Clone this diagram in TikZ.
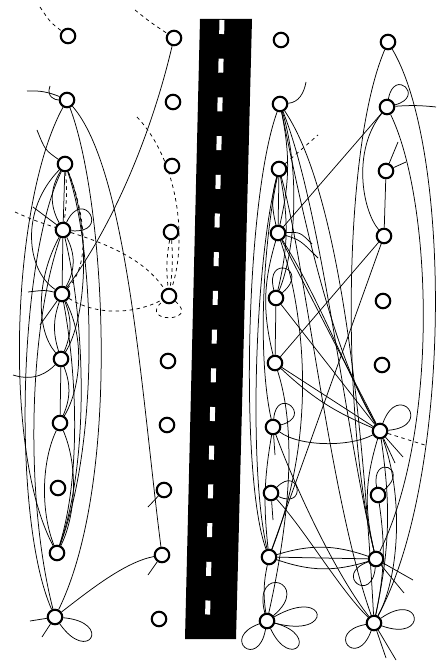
\documentclass[tikz,border=0pt]{standalone}
\usetikzlibrary{backgrounds}
\begin{document}
\begin{tikzpicture}[x=1pt,y=-1pt,
  hs/.style={circle,draw,line width=2.1pt,minimum size=14.5pt,inner sep=0pt,fill=white},
  ed/.style={line width=0.75pt},
  dd/.style={line width=0.75pt,dash pattern=on 3.5pt off 3.5pt}]
\useasboundingbox (0,0) rectangle (442,663);
% ---------- nodes ----------
\foreach \n/\x/\y in {a0/68/36,a1/67/100,a2/65/164,a3/63/230,a4/62/294,a5/61/359,a6/60/423,a7/58/488,a8/57/553,a9/55/617,
  b0/174/38,b1/173/102,b2/172/166,b3/171/232,b4/169/296,b5/168/361,b6/167/425,b7/164/490,b8/162/555,b9/159/619,
  c0/281/40,c1/280/104,c2/279/169,c3/278/233,c4/276/298,c5/275/363,c6/273/427,c7/271/493,c8/269/557,c9/267/621,
  d0/388/42,d1/387/107,d2/386/171,d3/384/236,d4/383/301,d5/382/365,d6/380/431,d7/378/495,d8/376/559,d9/374/623}
  {\node[hs] (\n) at (\x,\y) {};}
% free ends
\coordinate (da0) at (40,7);   \coordinate (db0) at (135,10);
\coordinate (dq) at (137,117); \coordinate (dl) at (15,212);
\coordinate (sa1a) at (27,91); \coordinate (sa1b) at (50,86);
\coordinate (sa2) at (37,130); \coordinate (sa3) at (33,207);
\coordinate (sa4a) at (28,292); \coordinate (sa4b) at (40,325);
\coordinate (sa5) at (13,375);
\coordinate (sa9a) at (30,621); \coordinate (sa9b) at (42,637);
\coordinate (sb7) at (148,507); \coordinate (sb8) at (148,575);
\coordinate (sc1) at (306,82); \coordinate (sc2) at (318,135);
\coordinate (sc3a) at (312,244); \coordinate (sc3b) at (318,258);
\coordinate (sc6) at (275,455); \coordinate (sc7) at (273,520);
\coordinate (sd1) at (436,107);
\coordinate (sd2a) at (398,142); \coordinate (sd2b) at (406,162);
\coordinate (sd6a) at (403,457); \coordinate (sd6b) at (395,463); \coordinate (sd6c) at (428,446);
\coordinate (sd8a) at (413,580); \coordinate (sd8b) at (404,593);
\coordinate (sd9a) at (396,660); \coordinate (sd9b) at (386,658);
\begin{pgfonlayer}{background}
% ---------- road ----------
\fill[black] (200,19) -- (252,19) -- (236,639) -- (185,639) -- cycle;
\foreach \i in {0,...,15}{
  \pgfmathsetmacro{\ya}{20+38.7*\i}
  \pgfmathsetmacro{\yb}{\ya+14}
  \pgfmathsetmacro{\xa}{222-0.0242*(\ya-20)}
  \pgfmathsetmacro{\xb}{222-0.0242*(\yb-20)}
  \draw[white,line width=5pt] (\xa,\ya) -- (\xb,\yb);
}
% ---------- left, dashed ----------
\draw[dd] (da0) .. controls (50,22) .. (a0);
\draw[dd] (db0) .. controls (150,22) .. (b0);
\draw[dd] (dq) .. controls (178,160) and (188,240) .. (b4);
\draw[dd] (b3) to[bend right=8] (b4);
\draw[dd] (b3) to[bend left=6] (b4);
\draw[dd] (b4) to[out=-40,in=-140,min distance=34pt] (b4);
\draw[dd] (dl) .. controls (33,220) .. (a3);
\draw[dd] (a3) .. controls (110,245) and (145,260) .. (b4);
\draw[dd] (a4) .. controls (100,318) and (140,312) .. (b4);
\draw[dd] (a2) to[bend left=6] (a3);
\draw[dd] (a2) .. controls (80,200) and (95,260) .. (a4);
% ---------- left, solid ----------
\draw[ed] (sa1a) to[bend left=12] (a1);
\draw[ed] (sa1b) .. controls (46,97) and (55,100) .. (a1);
\draw[ed] (sa2) .. controls (45,150) .. (a2);
\draw[ed] (sa3) .. controls (45,215) .. (a3);
\draw[ed] (sa4a) .. controls (45,290) .. (a4);
\draw[ed] (a4) -- (sa4b);
\draw[ed] (sa5) .. controls (35,382) and (48,372) .. (a5);
\draw[ed] (a1) .. controls (105,200) and (122,480) .. (a9);
\draw[ed] (a1) .. controls (128,170) and (142,400) .. (b8);
\draw[ed] (a1) .. controls (12,200) and (2,450) .. (a8);
\draw[ed] (a2) .. controls (18,260) and (12,520) .. (a9);
\draw[ed] (a3) .. controls (28,330) and (25,500) .. (a9);
\draw[ed] (a2) .. controls (95,250) and (100,440) .. (a8);
\draw[ed] (a3) .. controls (85,320) and (90,460) .. (a8);
\draw[ed] (a4) .. controls (78,380) and (80,480) .. (a8);
\draw[ed] (a6) .. controls (42,460) and (40,510) .. (a8);
\draw[ed] (a6) .. controls (80,470) and (74,520) .. (a8);
\draw[ed] (a5) -- (a6);
\draw[ed] (a5) to[bend left=22] (a6);
\draw[ed] (a4) to[bend left=22] (a5);
\draw[ed] (a4) to[bend right=18] (a5);
\draw[ed] (a3) -- (a4);
\draw[ed] (a3) to[bend left=28] (a4);
\draw[ed] (a2) -- (a3);
\draw[ed] (a2) to[bend right=30] (a3);
\draw[ed] (a2) .. controls (20,210) and (26,270) .. (a4);
\draw[ed] (a2) .. controls (92,230) and (86,320) .. (a5);
\draw[ed] (a3) .. controls (36,280) and (36,330) .. (a5);
\draw[ed] (a4) .. controls (86,340) and (80,390) .. (a6);
\draw[ed] (b0) .. controls (150,140) and (110,230) .. (a4);
\draw[ed] (a3) to[out=65,in=-5,min distance=40pt] (a3);
\draw[ed] (b7) -- (sb7);
\draw[ed] (b8) -- (sb8);
\draw[ed] (a9) .. controls (90,590) and (125,562) .. (b8);
\draw[ed] (a9) to[out=-5,in=-55,min distance=50pt] (a9);
\draw[ed] (a9) -- (sa9a);
\draw[ed] (a9) -- (sa9b);
% ---------- right, dashed ----------
\draw[dd] (c2) -- (sc2);
\draw[dd] (d6) -- (sd6c);
% ---------- right, solid ----------
\draw[ed] (c1) to[out=5,in=-100] (sc1);
\draw[ed] (c1) .. controls (245,200) and (240,480) .. (c8);
\draw[ed] (c2) .. controls (255,260) and (248,470) .. (c8);
\draw[ed] (c2) .. controls (262,250) and (258,360) .. (c6);
\draw[ed] (c1) to[bend left=12] (c3);
\draw[ed] (c1) .. controls (300,170) and (296,250) .. (c4);
\draw[ed] (c1) .. controls (345,200) and (365,460) .. (d9);
\draw[ed] (c1) .. controls (322,210) and (345,430) .. (d8);
\draw[ed] (c1) .. controls (300,200) and (330,350) .. (d6);
\draw[ed] (c2) .. controls (305,260) and (330,500) .. (d9);
\draw[ed] (c2) -- (c3);
\draw[ed] (c2) to[bend right=15] (c3);
\draw[ed] (c2) to[bend left=12] (c4);
\draw[ed] (d1) -- (c3);
\draw[ed] (d3) -- (c5);
\draw[ed] (d3) -- (c8);
\draw[ed] (c3) -- (d6);
\draw[ed] (c3) .. controls (320,300) and (350,380) .. (d6);
\draw[ed] (c4) -- (d6);
\draw[ed] (c5) -- (d6);
\draw[ed] (c5) to[bend right=10] (d6);
\draw[ed] (c3) to[bend right=15] (c5);
\draw[ed] (c4) -- (c5);
\draw[ed] (c8) .. controls (322,420) and (300,300) .. (c3);
\draw[ed] (c3) .. controls (300,232) .. (sc3a);
\draw[ed] (c3) .. controls (300,240) .. (sc3b);
\draw[ed] (c4) to[out=105,in=40,min distance=38pt] (c4);
\draw[ed] (c6) to[out=85,in=15,min distance=34pt] (c6);
\draw[ed] (c6) .. controls (300,447) and (350,447) .. (d6);
\draw[ed] (c6) -- (sc6);
\draw[ed] (c6) to[bend right=8] (c8);
\draw[ed] (c7) to[out=45,in=-25,min distance=32pt] (c7);
\draw[ed] (c7) -- (sc7);
\draw[ed] (c8) -- (d8);
\draw[ed] (c8) to[bend left=18] (d8);
\draw[ed] (c8) to[bend right=18] (d8);
\draw[ed] (c6) .. controls (300,500) and (340,580) .. (d9);
\draw[ed] (c7) .. controls (305,530) and (340,590) .. (d9);
\draw[ed] (d6) to[bend right=15] (d8);
\draw[ed] (d6) to[bend left=10] (d9);
\draw[ed] (d6) .. controls (405,500) and (398,580) .. (d9);
\draw[ed] (d7) to[bend left=10] (d9);
\draw[ed] (d0) .. controls (452,150) and (452,480) .. (d9);
\draw[ed] (d0) .. controls (342,150) and (342,420) .. (d8);
\draw[ed] (d1) .. controls (432,200) and (440,430) .. (d8);
\draw[ed] (d1) .. controls (352,150) and (362,210) .. (d3);
\draw[ed] (d2) -- (d3);
\draw[ed] (d2) -- (sd2a);
\draw[ed] (d2) -- (sd2b);
\draw[ed] (d1) to[out=80,in=15,min distance=32pt] (d1);
\draw[ed] (d1) to[bend left=5] (sd1);
\draw[ed] (d6) to[out=70,in=5,min distance=46pt] (d6);
\draw[ed] (d6) -- (sd6a);
\draw[ed] (d6) -- (sd6b);
\draw[ed] (d7) to[out=100,in=40,min distance=34pt] (d7);
\draw[ed] (d8) to[out=-95,in=-160,min distance=38pt] (d8);
\draw[ed] (d8) -- (sd8a);
\draw[ed] (d8) -- (sd8b);
\draw[ed] (c8) to[bend right=10] (c9);
\draw[ed] (c9) .. controls (285,540) and (300,440) .. (c5);
\draw[ed] (c9) to[out=105,in=40,min distance=52pt] (c9);
\draw[ed] (c9) to[out=30,in=-15,min distance=62pt] (c9);
\draw[ed] (c9) to[out=-15,in=-65,min distance=48pt] (c9);
\draw[ed] (c9) to[out=-100,in=-160,min distance=42pt] (c9);
\draw[ed] (d9) to[out=35,in=-20,min distance=50pt] (d9);
\draw[ed] (d9) to[out=-110,in=-170,min distance=42pt] (d9);
\draw[ed] (d9) -- (sd9a);
\draw[ed] (d9) -- (sd9b);
\end{pgfonlayer}
\end{tikzpicture}
\end{document}
